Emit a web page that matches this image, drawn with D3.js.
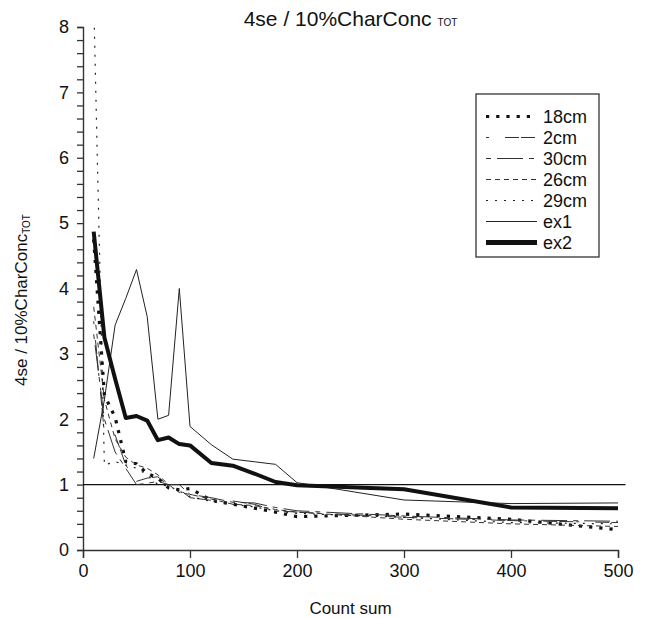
<!DOCTYPE html>
<html>
<head>
<meta charset="utf-8">
<script src="https://d3js.org/d3.v7.min.js"></script>
<style>
  body { margin: 0; background: #fff; }
  svg { font-family: "Liberation Sans", Arial, sans-serif; }
</style>
</head>
<body>
<div id="chart"></div>
<script>
// count sums shared by every series
const countSum = [10, 20, 30, 40, 50, 60, 70, 80, 90, 100, 120, 140, 160, 180, 200, 300, 400, 500];

const s18cm = [4.75, 2.37, 2.03, 1.35, 1.32, 1.17, 1.1, 0.95, 0.92, 0.94, 0.76, 0.7, 0.64, 0.58, 0.51, 0.55, 0.47, 0.31];
const s2cm  = [3.5, 1.78, 1.76, 1.3, 1.05, 1.1, 1.12, 0.98, 0.93, 0.8, 0.76, 0.75, 0.7, 0.6, 0.58, 0.5, 0.45, 0.42];
const s30cm = [3.3, 2.0, 1.5, 1.25, 1.0, 1.02, 1.05, 1.0, 1.0, 0.85, 0.8, 0.73, 0.72, 0.65, 0.6, 0.52, 0.46, 0.44];
const s26cm = [3.72, 2.3, 1.7, 1.42, 1.3, 1.25, 1.15, 1.0, 0.88, 0.85, 0.78, 0.7, 0.68, 0.62, 0.58, 0.47, 0.4, 0.36];
const s29cm = [8.4, 1.3, 1.35, 1.3, 1.25, 1.15, 1.0, 0.98, 0.9, 0.82, 0.74, 0.7, 0.66, 0.6, 0.56, 0.5, 0.42, 0.4];
const ex1   = [1.4, 2.3, 3.44, 3.85, 4.29, 3.57, 2.0, 2.06, 4.0, 1.89, 1.61, 1.39, 1.35, 1.31, 1.03, 0.765, 0.71, 0.72];
const ex2   = [4.87, 3.25, 2.62, 2.02, 2.05, 1.98, 1.68, 1.72, 1.62, 1.6, 1.33, 1.29, 1.17, 1.04, 0.99, 0.93, 0.65, 0.64];

const seriesNames = ["18cm", "2cm", "30cm", "26cm", "29cm", "ex1", "ex2"];
const seriesValues = [s18cm, s2cm, s30cm, s26cm, s29cm, ex1, ex2];

const xTicks = [0, 100, 200, 300, 400, 500];
const yTicks = [0, 1, 2, 3, 4, 5, 6, 7, 8];

// line looks per series
const styles = {
  "18cm": {w: 3.2, dash: "3.2,7", color: "#111"},
  "2cm":  {w: 1, dash: "3,16,14,2,14,3", color: "#333"},
  "30cm": {w: 1, dash: "5,6,26,6", color: "#333"},
  "26cm": {w: 1, dash: "5,4", color: "#333"},
  "29cm": {w: 1.2, dash: "2,7", color: "#222"},
  "ex1":  {w: 1, dash: null, color: "#222"},
  "ex2":  {w: 4, dash: null, color: "#111"}
};

const W = 646, H = 618;
const svg = d3.select("#chart").append("svg")
    .attr("width", W)
    .attr("height", H);

const x = d3.scaleLinear().domain([0, 500]).range([83, 618]);
const y = d3.scaleLinear().domain([0, 8]).range([550, 27]);

svg.append("clipPath").attr("id", "plot")
  .append("rect")
    .attr("x", x(0)).attr("y", y(8))
    .attr("width", x(505) - x(0)).attr("height", y(0) - y(8));

// y axis with minor ticks every 0.2
const yAxis = svg.append("g")
    .attr("transform", "translate(" + x(0) + ",0)")
    .call(d3.axisLeft(y)
      .tickValues(d3.range(0, 8.001, 0.2))
      .tickSize(6)
      .tickPadding(8)
      .tickFormat(function(d) { return yTicks.indexOf(Math.round(d * 10) / 10) >= 0 ? d3.format("d")(d) : ""; }));

// x axis
const xAxis = svg.append("g")
    .attr("transform", "translate(0," + y(0) + ")")
    .call(d3.axisBottom(x).tickValues(xTicks).tickSize(8).tickPadding(6));

[yAxis, xAxis].forEach(function(g) {
  g.select(".domain").attr("stroke", "#333").attr("stroke-width", 1.4);
  g.selectAll(".tick line").attr("stroke", "#333").attr("stroke-width", 1.3);
  g.selectAll("text").attr("fill", "#111").style("font-size", "18px").style("font-family", "Liberation Sans, Arial, sans-serif");
});

// reference line at 1
svg.append("line")
    .attr("x1", x(0)).attr("x2", x(507))
    .attr("y1", y(1)).attr("y2", y(1))
    .attr("stroke", "#111").attr("stroke-width", 1.3);

const line = d3.line()
    .x(function(d) { return x(d[0]); })
    .y(function(d) { return y(d[1]); });

const lines = svg.append("g").attr("clip-path", "url(#plot)");
seriesNames.forEach(function(name, i) {
  const st = styles[name];
  const pts = countSum.map(function(c, j) { return [c, seriesValues[i][j]]; });
  lines.append("path")
      .datum(pts)
      .attr("fill", "none")
      .attr("stroke", st.color)
      .attr("stroke-width", st.w)
      .attr("stroke-dasharray", st.dash)
      .attr("stroke-linejoin", "round")
      .attr("d", line);
});

// legend
const legend = svg.append("g");
legend.append("rect")
    .attr("x", 476).attr("y", 94)
    .attr("width", 123).attr("height", 163)
    .attr("fill", "#fff")
    .attr("stroke", "#333").attr("stroke-width", 1.3);

const item = legend.selectAll(".item")
    .data(seriesNames)
    .enter().append("g")
    .attr("class", "item")
    .attr("transform", function(d, i) { return "translate(0," + (116.5 + i * 21) + ")"; });

item.append("line")
    .attr("x1", 486).attr("x2", 537)
    .attr("stroke", function(d) { return styles[d].color; })
    .attr("stroke-width", function(d) { return styles[d].w === 4 ? 5 : styles[d].w; })
    .attr("stroke-dasharray", function(d) { return styles[d].dash; });

item.append("text")
    .attr("x", 543)
    .attr("dy", "0.35em")
    .style("font-size", "18px")
    .attr("fill", "#111")
    .text(function(d) { return d; });

// title
const title = svg.append("text")
    .attr("x", (x(0) + x(500)) / 2)
    .attr("y", 26)
    .attr("text-anchor", "middle")
    .style("font-size", "21px")
    .attr("fill", "#111");
title.append("tspan").text("4se / 10%CharConc ");
title.append("tspan").style("font-size", "10px").text("TOT");

// y axis title
const yTitle = svg.append("text")
    .attr("transform", "translate(27,300) rotate(-90)")
    .attr("text-anchor", "middle")
    .style("font-size", "17px")
    .attr("fill", "#111");
yTitle.append("tspan").text("4se / 10%CharConc");
yTitle.append("tspan").style("font-size", "10px").attr("dy", 3).text("TOT");

// x axis title
svg.append("text")
    .attr("x", (x(0) + x(500)) / 2)
    .attr("y", 614)
    .attr("text-anchor", "middle")
    .style("font-size", "17px")
    .attr("fill", "#111")
    .text("Count sum");
</script>
</body>
</html>
